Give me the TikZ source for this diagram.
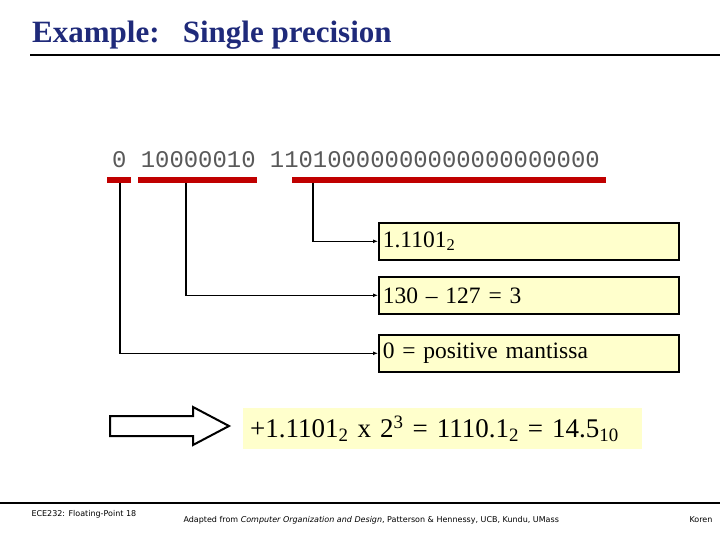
\documentclass[tikz,border=0pt]{standalone}
\usepackage{fontspec}
\setmainfont{Liberation Serif}
\setmonofont{Liberation Mono}
\setsansfont{DejaVu Sans}
\usetikzlibrary{arrows.meta}
\definecolor{navy}{HTML}{1F2A7A}
\definecolor{bitred}{HTML}{C00000}
\definecolor{pale}{HTML}{FFFFCC}
\tikzset{
 bar/.style={bitred,line width=6pt},
 conn/.style={line width=1.2pt,-{Latex[length=5pt,width=4pt]}},
 infobox/.style={draw,line width=1.6pt,fill=pale,minimum width=300pt,minimum height=37pt,text width=292pt,align=left,inner sep=4pt,font=\fontsize{23.5}{26}\selectfont},
 foot/.style={font=\sffamily\fontsize{8}{10}\selectfont,anchor=west}
}
\begin{document}
\begin{tikzpicture}[x=1pt,y=-1pt]
\useasboundingbox (0,0) rectangle (720,540);
\node[anchor=base west,inner sep=0,text=navy,font=\bfseries\fontsize{31}{33}\selectfont] (title) at (32,43) {Example:\ \ \ Single precision};
\draw[line width=1.5pt] (30,55) coordinate (t1) -- (720,55) coordinate (t2);
\node[anchor=base west,inner sep=0,text=black!65,font=\ttfamily\fontsize{23.9}{26}\selectfont] (bits) at (112,168) {0 10000010 11010000000000000000000};
\draw[bar] (107,180) coordinate (b1a) -- (131,180) coordinate (b1b);
\draw[bar] (138,180) coordinate (b2a) -- (257,180) coordinate (b2b);
\draw[bar] (292,180) coordinate (b3a) -- (606,180) coordinate (b3b);
\node[infobox,anchor=north west] (m) at (378,222) {1.1101\textsubscript{2}};
\node[infobox,anchor=north west] (e) at (378,276) {130 – 127 = 3};
\node[infobox,anchor=north west] (s) at (378,334) {0 = positive mantissa};
\coordinate (c3) at (313,183);
\coordinate (c2) at (186,183);
\coordinate (c1) at (120,183);
\draw[conn] (c3) |- (m.west);
\draw[conn] (c2) |- (e.west);
\draw[conn] (c1) |- (s.west);
\draw[line width=2pt,fill=white,line join=miter] (110,416) -- (193,416) -- (193,407) -- (229,426) -- (193,445) -- (193,436) -- (110,436) -- cycle;
\node[fill=pale,anchor=north west,minimum width=399pt,minimum height=41pt,inner sep=3pt,font=\fontsize{27}{30}\selectfont,align=left,text width=393pt] (res) at (243,408) {\hspace{4pt}+1.1101\textsubscript{2} x 2\textsuperscript{3} = 1110.1\textsubscript{2} = 14.5\textsubscript{10}};
\draw[line width=1.5pt] (0,503) coordinate (f1) -- (720,503) coordinate (f2);
\node[foot] (f3) at (28,514) {ECE232: Floating-Point 18};
\node[foot] (f4) at (180,520) {Adapted from \textit{Computer Organization and Design}, Patterson \& Hennessy, UCB, Kundu, UMass};
\node[foot] (f5) at (686,520) {Koren};
\end{tikzpicture}
\end{document}
